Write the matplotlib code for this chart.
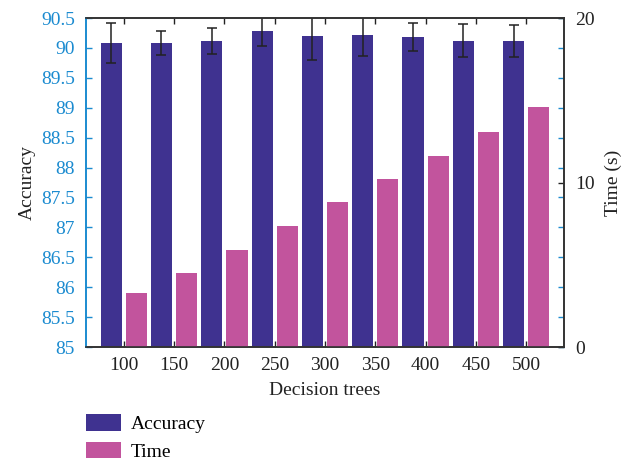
import matplotlib
matplotlib.use("Agg")
import matplotlib.pyplot as plt
from matplotlib.patches import Patch
import numpy as np

categories = ["100", "150", "200", "250", "300", "350", "400", "450", "500"]
accuracy = [90.08, 90.08, 90.11, 90.28, 90.20, 90.22, 90.18, 90.12, 90.11]
accuracy_err = [0.33, 0.20, 0.22, 0.25, 0.41, 0.36, 0.23, 0.28, 0.27]
time_s = [3.26, 4.50, 5.90, 7.36, 8.81, 10.21, 11.63, 13.07, 14.59]

plt.rcParams['font.family'] = ['Liberation Serif', 'DejaVu Serif']
FS = 14
acc_color = "#3F3290"
time_color = "#C2549D"
blue = "#1B8BD0"
dark = "#222222"

fig = plt.figure(figsize=(6.24, 4.61), dpi=100)
ax1 = fig.add_axes([86/624, 1-347/461, (564-86)/624, (347-18)/461])
ax2 = ax1.twinx()

x = np.arange(1, len(categories)+1)
w = 0.42
off = 0.25
ax1.bar(x - off, accuracy, width=w, color=acc_color, zorder=2)
ax1.errorbar(x - off, accuracy, yerr=accuracy_err, fmt='none', ecolor=dark,
             elinewidth=1.1, capsize=3.3, capthick=1.1, zorder=3)
ax1.set_ylim(85, 90.5)
ax1.set_xlim(0.25, 9.75)
ax1.set_yticks(np.arange(85, 90.51, 0.5))
ax1.set_yticklabels([f"{v:g}" for v in np.arange(85, 90.51, 0.5)])
ax1.set_xticks(x)
ax1.set_xticklabels(categories)

ax2.bar(x + off, time_s, width=w, color=time_color, zorder=2)
ax2.set_ylim(0, 20)
ax2.set_yticks([0, 10, 20])

ax1.tick_params(axis='y', direction='in', colors=blue, labelcolor=blue, labelsize=FS,
                length=4, width=1, right=True, pad=8)
ax1.tick_params(axis='x', direction='in', top=True, colors=dark, labelcolor=dark,
                labelsize=FS, length=4, width=1, pad=7)
ax2.tick_params(axis='y', direction='in', colors=dark, labelcolor=dark, labelsize=FS,
                length=4, width=1, pad=8)

for sp in ['top', 'bottom', 'right']:
    ax1.spines[sp].set_color("#333333")
    ax2.spines[sp].set_color("#333333")
ax1.spines['left'].set_color(blue)
ax2.spines['left'].set_color(blue)
for a in (ax1, ax2):
    for sp in a.spines.values():
        sp.set_linewidth(1.2)

ax1.set_ylabel("Accuracy", fontsize=FS, color=dark, labelpad=4)
ax2.set_ylabel("Time (s)", fontsize=FS, color=dark, labelpad=7)
ax1.set_xlabel("Decision trees", fontsize=FS, color=dark, labelpad=6)

handles = [Patch(facecolor=acc_color, edgecolor='none', label="Accuracy"),
           Patch(facecolor=time_color, edgecolor='none', label="Time")]
fig.legend(handles=handles, loc='upper left', bbox_to_anchor=(80/624, 1-408/461),
           frameon=False, fontsize=FS, handlelength=1.8, handleheight=0.95,
           labelspacing=0.45, handletextpad=0.5, borderaxespad=0, borderpad=0.3)

fig.savefig("out.png", dpi=100)
